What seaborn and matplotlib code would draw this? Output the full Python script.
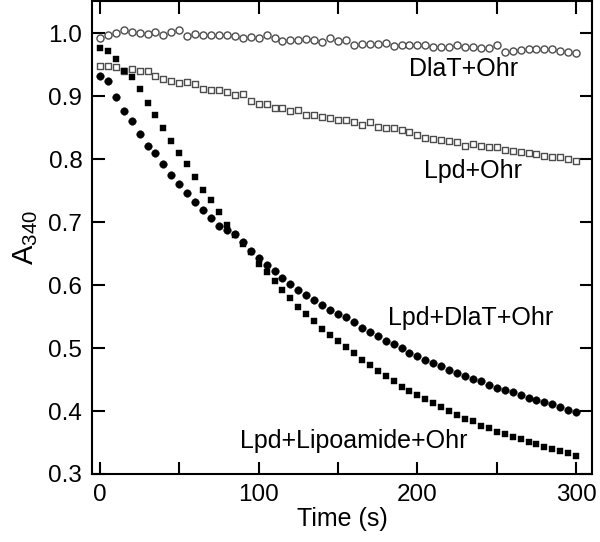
import numpy as np
import pandas as pd
import matplotlib
matplotlib.use("Agg")
import matplotlib.pyplot as plt
from matplotlib.ticker import MultipleLocator, FixedLocator
import seaborn as sns

# ---- data ----
time_s = list(range(0, 305, 5))

dlat_ohr = [0.993, 0.998, 1.000, 1.006, 1.003, 1.000, 0.999, 1.002, 0.997, 1.003, 1.005,
            0.996, 0.999, 0.998, 0.997, 0.997, 0.997, 0.996, 0.992, 0.995, 0.992,
            0.997, 0.993, 0.988, 0.990, 0.990, 0.991, 0.990, 0.986, 0.993, 0.988,
            0.990, 0.982, 0.983, 0.984, 0.984, 0.985, 0.980, 0.982, 0.982, 0.981,
            0.981, 0.979, 0.978, 0.978, 0.981, 0.978, 0.978, 0.977, 0.977, 0.981,
            0.970, 0.972, 0.974, 0.976, 0.976, 0.976, 0.976, 0.972, 0.970, 0.969]

lpd_ohr = [0.949, 0.949, 0.947, 0.941, 0.944, 0.940, 0.940, 0.933, 0.927, 0.925, 0.921,
           0.923, 0.919, 0.912, 0.910, 0.910, 0.907, 0.902, 0.904, 0.893, 0.888,
           0.888, 0.882, 0.882, 0.876, 0.879,
           0.871, 0.870, 0.867, 0.866, 0.863, 0.862, 0.859, 0.855, 0.860, 0.852,
           0.850, 0.849, 0.847, 0.844, 0.839,
           0.834, 0.833, 0.831, 0.829, 0.827, 0.821, 0.824, 0.821, 0.820, 0.819,
           0.815, 0.813, 0.812, 0.810, 0.808, 0.805, 0.804, 0.803, 0.801, 0.797]

lpd_dlat_ohr = [0.933, 0.924, 0.899, 0.876, 0.861, 0.841, 0.821, 0.810, 0.793, 0.775, 0.760,
                0.746, 0.732, 0.719, 0.707, 0.694, 0.688,
                0.681, 0.668, 0.655, 0.643, 0.632, 0.622, 0.612, 0.602, 0.593, 0.584,
                0.576, 0.568, 0.560, 0.555, 0.549, 0.541, 0.532, 0.526, 0.519, 0.512,
                0.506, 0.500, 0.493, 0.488, 0.481, 0.477, 0.471, 0.466, 0.461, 0.456,
                0.451, 0.448, 0.442, 0.437, 0.434, 0.431, 0.426, 0.421, 0.417, 0.414,
                0.411, 0.407, 0.402, 0.398]

lpd_lipo_ohr = [0.977, 0.972, 0.960, 0.941, 0.931, 0.911, 0.889, 0.870, 0.849, 0.829, 0.810,
                0.793, 0.772, 0.752, 0.735, 0.717, 0.695, 0.680, 0.666, 0.652, 0.634,
                0.621, 0.606, 0.593, 0.579, 0.565, 0.554, 0.543, 0.531, 0.521, 0.511,
                0.502, 0.492, 0.481, 0.473, 0.464, 0.455, 0.447, 0.439, 0.432, 0.425,
                0.419, 0.412, 0.406, 0.400, 0.394, 0.388, 0.384, 0.377, 0.373, 0.367,
                0.363, 0.359, 0.355, 0.351, 0.347, 0.343, 0.340, 0.337, 0.333, 0.329]

series_names = ["DlaT+Ohr", "Lpd+Ohr", "Lpd+DlaT+Ohr", "Lpd+Lipoamide+Ohr"]
x_ticks = [0, 100, 200, 300]
y_ticks = [0.3, 0.4, 0.5, 0.6, 0.7, 0.8, 0.9, 1.0]

# ---- style ----
sns.set_theme(style="ticks")
plt.rcParams["font.family"] = ["Liberation Sans", "DejaVu Sans"]
plt.rcParams["mathtext.fontset"] = "custom"
plt.rcParams["mathtext.rm"] = "Liberation Sans"
plt.rcParams["mathtext.it"] = "Liberation Sans:italic"
plt.rcParams["text.color"] = "black"
plt.rcParams["axes.labelcolor"] = "black"

df = pd.concat([
    pd.DataFrame({"t": time_s, "A": dlat_ohr, "s": series_names[0]}),
    pd.DataFrame({"t": time_s, "A": lpd_ohr, "s": series_names[1]}),
    pd.DataFrame({"t": time_s, "A": lpd_dlat_ohr, "s": series_names[2]}),
    pd.DataFrame({"t": time_s, "A": lpd_lipo_ohr, "s": series_names[3]}),
])

fig = plt.figure(figsize=(6.0, 5.42), dpi=100)
ax = fig.add_axes([0.1533, 0.1255, 0.8334, 0.872])

styles = {
    "DlaT+Ohr": dict(marker="o", s=26, facecolor="white", edgecolor="#4d4d4d", linewidth=1.0),
    "Lpd+Ohr": dict(marker="s", s=24, facecolor="white", edgecolor="#4d4d4d", linewidth=1.0),
    "Lpd+DlaT+Ohr": dict(marker="o", s=30, facecolor="black", edgecolor="black", linewidth=0.3),
    "Lpd+Lipoamide+Ohr": dict(marker="s", s=21, facecolor="black", edgecolor="black", linewidth=0.3),
}
for name in series_names:
    sub = df[df["s"] == name]
    st = styles[name]
    sns.scatterplot(data=sub, x="t", y="A", ax=ax, marker=st["marker"], s=st["s"],
                    color=st["facecolor"], edgecolor=st["edgecolor"],
                    linewidth=st["linewidth"], legend=False, zorder=3)

ax.set_xlim(-5, 310)
ax.set_ylim(0.3, 1.051)
ax.xaxis.set_major_locator(FixedLocator(x_ticks))
ax.xaxis.set_minor_locator(MultipleLocator(50))
ax.yaxis.set_major_locator(FixedLocator(y_ticks))
ax.set_yticklabels([f"{v:.1f}" for v in y_ticks])

for side in ["left", "right", "top", "bottom"]:
    ax.spines[side].set_visible(True)
    ax.spines[side].set_linewidth(1.5)
    ax.spines[side].set_color("black")

ax.tick_params(axis="both", which="both", direction="in", length=9, width=1.5,
               colors="black", top=True, right=True, labelsize=17.5)
ax.tick_params(axis="x", which="major", pad=7)
ax.tick_params(axis="y", which="major", pad=7)

ax.set_xlabel("Time (s)", fontsize=18, labelpad=1)
ax.set_ylabel(r"$\mathregular{A}_{\mathit{340}}$", fontsize=21, labelpad=6)

ax.text(195, 0.932, series_names[0], fontsize=18, ha="left", va="baseline")
ax.text(204.4, 0.771, series_names[1], fontsize=18, ha="left", va="baseline")
ax.text(181.7, 0.537, series_names[2], fontsize=18, ha="left", va="baseline")
ax.text(88.3, 0.341, series_names[3], fontsize=18, ha="left", va="baseline")

fig.savefig("out.png", dpi=100, facecolor="white")
